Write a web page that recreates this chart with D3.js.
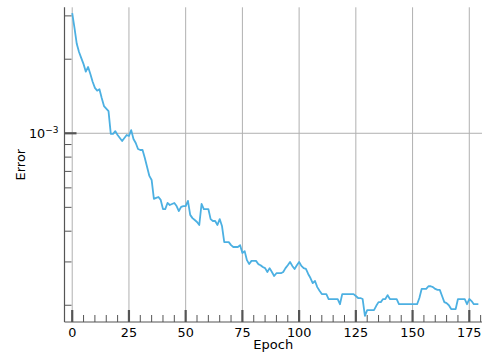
<!DOCTYPE html>
<html>
<head>
<meta charset="utf-8">
<script src="https://cdn.jsdelivr.net/npm/d3@7"></script>
<style>
  body { margin: 0; background: #fff; }
  text { font-family: "DejaVu Sans", sans-serif; fill: #000; }
</style>
</head>
<body>
<div id="chart"></div>
<script>
// training error per epoch
const errors = [
  3.08e-3, 2.68e-3, 2.31e-3, 2.14e-3, 2.02e-3, 1.91e-3, 1.78e-3, 1.86e-3, 1.74e-3, 1.62e-3,
  1.53e-3, 1.49e-3, 1.51e-3, 1.39e-3, 1.29e-3, 1.26e-3, 1.23e-3, 9.94e-4, 9.94e-4, 1.02e-3,
  9.84e-4, 9.57e-4, 9.30e-4, 9.57e-4, 9.84e-4, 9.75e-4, 1.03e-3, 9.48e-4, 9.13e-4, 8.63e-4,
  8.55e-4, 8.55e-4, 7.94e-4, 7.30e-4, 6.71e-4, 6.46e-4, 5.41e-4, 5.46e-4, 5.51e-4, 5.36e-4,
  4.92e-4, 4.92e-4, 5.21e-4, 5.11e-4, 5.16e-4, 5.21e-4, 5.06e-4, 4.83e-4, 5.02e-4, 5.06e-4,
  5.06e-4, 5.31e-4, 4.66e-4, 4.52e-4, 4.44e-4, 4.36e-4, 4.24e-4, 5.16e-4, 4.92e-4, 4.92e-4,
  4.92e-4, 4.48e-4, 4.40e-4, 4.40e-4, 4.24e-4, 4.48e-4, 4.20e-4, 3.61e-4, 3.61e-4, 3.61e-4,
  3.51e-4, 3.45e-4, 3.45e-4, 3.45e-4, 3.51e-4, 3.26e-4, 3.32e-4, 3.05e-4, 2.94e-4, 3.03e-4,
  3.03e-4, 3.03e-4, 2.94e-4, 2.91e-4, 2.86e-4, 2.83e-4, 2.73e-4, 2.83e-4, 2.73e-4, 2.63e-4,
  2.70e-4, 2.70e-4, 2.70e-4, 2.73e-4, 2.83e-4, 2.91e-4, 3.00e-4, 2.89e-4, 2.81e-4, 2.91e-4,
  3.00e-4, 2.89e-4, 2.83e-4, 2.81e-4, 2.68e-4, 2.58e-4, 2.46e-4, 2.51e-4, 2.37e-4, 2.29e-4,
  2.22e-4, 2.22e-4, 2.22e-4, 2.12e-4, 2.12e-4, 2.12e-4, 2.12e-4, 2.12e-4, 2.02e-4, 2.22e-4,
  2.22e-4, 2.22e-4, 2.22e-4, 2.22e-4, 2.22e-4, 2.18e-4, 2.14e-4, 2.14e-4, 2.12e-4, 1.81e-4,
  1.91e-4, 1.91e-4, 1.91e-4, 1.91e-4, 1.99e-4, 2.06e-4, 2.06e-4, 2.12e-4, 2.12e-4, 2.20e-4,
  2.12e-4, 2.12e-4, 2.12e-4, 2.12e-4, 2.02e-4, 2.02e-4, 2.02e-4, 2.02e-4, 2.02e-4, 2.02e-4,
  2.02e-4, 2.02e-4, 2.02e-4, 2.14e-4, 2.33e-4, 2.33e-4, 2.33e-4, 2.39e-4, 2.39e-4, 2.37e-4,
  2.33e-4, 2.31e-4, 2.31e-4, 2.18e-4, 2.06e-4, 2.04e-4, 2.00e-4, 1.93e-4, 1.93e-4, 1.93e-4,
  2.12e-4, 2.12e-4, 2.12e-4, 2.12e-4, 2.02e-4, 2.12e-4, 2.08e-4, 2.02e-4, 2.02e-4, 2.02e-4
];
const epochs = d3.range(errors.length);

const xMajorTicks = [0, 25, 50, 75, 100, 125, 150, 175];
const xMinorTicks = d3.range(0, 181, 5).filter(v => v % 25 !== 0);
const yMajorTicks = [1e-3];
const yMinorTicks = [3e-3, 2e-3, 9e-4, 8e-4, 7e-4, 6e-4, 5e-4, 4e-4, 3e-4, 2e-4];

const width = 482, height = 353;
const plot = { left: 64.5, right: 482, top: 7.3, bottom: 322 };

const svg = d3.select("#chart").append("svg")
  .attr("width", width)
  .attr("height", height);

const x = d3.scaleLinear()
  .domain([-3.4, 180.6])
  .range([plot.left, plot.right]);

const y = d3.scaleLog()
  .domain([Math.pow(10, -3.767), Math.pow(10, -2.488)])
  .range([plot.bottom, plot.top]);

const gridColor = "#b0b0b0";
const tickColor = "#555";

// grid lines
svg.append("g").selectAll("line")
  .data(xMajorTicks)
  .join("line")
  .attr("x1", d => x(d)).attr("x2", d => x(d))
  .attr("y1", plot.top).attr("y2", plot.bottom)
  .attr("stroke", gridColor).attr("stroke-width", 1);

svg.append("g").selectAll("line")
  .data(yMajorTicks)
  .join("line")
  .attr("x1", plot.left).attr("x2", plot.right)
  .attr("y1", d => y(d)).attr("y2", d => y(d))
  .attr("stroke", gridColor).attr("stroke-width", 1);

// data line
svg.append("path")
  .datum(epochs)
  .attr("fill", "none")
  .attr("stroke", "#4cb0e2")
  .attr("stroke-width", 1.8)
  .attr("stroke-linejoin", "round")
  .attr("d", d3.line()
    .x(d => x(d))
    .y(d => y(errors[d])));

// spines
svg.append("line")
  .attr("x1", plot.left).attr("x2", plot.left)
  .attr("y1", plot.top).attr("y2", plot.bottom)
  .attr("stroke", tickColor).attr("stroke-width", 1.2);
svg.append("line")
  .attr("x1", plot.left).attr("x2", plot.right)
  .attr("y1", plot.bottom).attr("y2", plot.bottom)
  .attr("stroke", tickColor).attr("stroke-width", 1.2);

// x ticks (inward)
svg.append("g").selectAll("line")
  .data(xMajorTicks)
  .join("line")
  .attr("x1", d => x(d)).attr("x2", d => x(d))
  .attr("y1", plot.bottom).attr("y2", plot.bottom - 12)
  .attr("stroke", tickColor).attr("stroke-width", 2.2);

svg.append("g").selectAll("line")
  .data(xMinorTicks)
  .join("line")
  .attr("x1", d => x(d)).attr("x2", d => x(d))
  .attr("y1", plot.bottom).attr("y2", plot.bottom - 7)
  .attr("stroke", tickColor).attr("stroke-width", 1);

svg.append("g").selectAll("text")
  .data(xMajorTicks)
  .join("text")
  .attr("x", d => x(d))
  .attr("y", 337)
  .attr("text-anchor", "middle")
  .style("font-size", "12.8px")
  .text(d => d);

// y ticks (inward)
svg.append("g").selectAll("line")
  .data(yMajorTicks)
  .join("line")
  .attr("x1", plot.left).attr("x2", plot.left + 12)
  .attr("y1", d => y(d)).attr("y2", d => y(d))
  .attr("stroke", tickColor).attr("stroke-width", 2.2);

svg.append("g").selectAll("line")
  .data(yMinorTicks)
  .join("line")
  .attr("x1", plot.left).attr("x2", plot.left + 7)
  .attr("y1", d => y(d)).attr("y2", d => y(d))
  .attr("stroke", tickColor).attr("stroke-width", 1);

const yLabel = svg.append("g").selectAll("text")
  .data(yMajorTicks)
  .join("text")
  .attr("x", plot.left - 6)
  .attr("y", d => y(d) + 4.5)
  .attr("text-anchor", "end")
  .style("font-size", "12.8px");
yLabel.append("tspan").text("10");
yLabel.append("tspan")
  .attr("dy", -5)
  .style("font-size", "9px")
  .text(d => "\u2212" + Math.round(-Math.log10(d)));

// axis titles
svg.append("text")
  .attr("x", (plot.left + plot.right) / 2)
  .attr("y", 349)
  .attr("text-anchor", "middle")
  .style("font-size", "13px")
  .text("Epoch");

svg.append("text")
  .attr("transform", `translate(25,${(plot.top + plot.bottom) / 2}) rotate(-90)`)
  .attr("text-anchor", "middle")
  .style("font-size", "13px")
  .text("Error");
</script>
</body>
</html>
